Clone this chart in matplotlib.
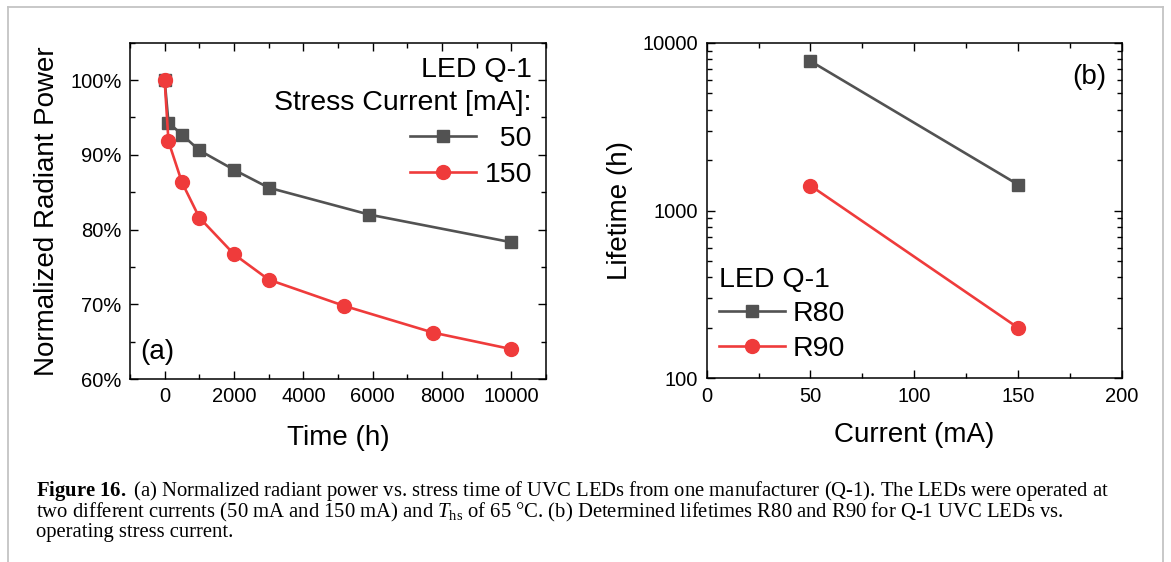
import matplotlib
matplotlib.use("Agg")
import matplotlib.pyplot as plt
from matplotlib.ticker import MultipleLocator, FuncFormatter, LogLocator, NullFormatter
from matplotlib.lines import Line2D

plt.rcParams['font.family'] = ['Liberation Sans', 'DejaVu Sans']
plt.rcParams['mathtext.fontset'] = 'custom'
plt.rcParams['mathtext.rm'] = 'Liberation Serif'
plt.rcParams['mathtext.it'] = 'Liberation Serif:italic'
plt.rcParams['mathtext.bf'] = 'Liberation Serif:bold'

# (a) normalized radiant power vs stress time
time_50 = [0, 110, 500, 1000, 2000, 3000, 5900, 10000]
power_50 = [100, 94.3, 92.7, 90.6, 88.0, 85.6, 82.0, 78.3]
time_150 = [0, 110, 500, 1000, 2000, 3000, 5170, 7750, 10000]
power_150 = [100, 91.8, 86.3, 81.6, 76.7, 73.3, 69.8, 66.2, 64.0]

# (b) lifetimes vs stress current
current = [50, 150]
life_r80 = [7800, 1430]
life_r90 = [1410, 200]

GRAY = '#525252'
RED = '#ef3b3b'
TICK_FS = 14.5
LABEL_FS = 20
LEG_FS = 20.5

fig = plt.figure(figsize=(11.71, 5.62), dpi=100)

# light frame around the figure block
for xs, ys in [([0.0071, 0.9929], [0.9884, 0.9884]),
               ([0.0071, 0.0071], [0.0, 0.9884]),
               ([0.9929, 0.9929], [0.0, 0.9884])]:
    fig.add_artist(Line2D(xs, ys, color='#c4c4c4', lw=1.3, transform=fig.transFigure))


def style_axes(ax):
    for sp in ax.spines.values():
        sp.set_linewidth(1.1)
    ax.tick_params(which='both', direction='in', top=True, right=True,
                   width=1.0, labelsize=TICK_FS)
    ax.tick_params(which='major', length=6, pad=6)
    ax.tick_params(which='minor', length=3.5)


# ---- panel (a)
ax1 = fig.add_axes([0.1110, 0.3256, 0.3553, 0.5984])
ax1.plot(time_50, power_50, '-s', color=GRAY, lw=1.9, ms=9, label='  50')
ax1.plot(time_150, power_150, '-o', color=RED, lw=1.9, ms=10, label='150')
ax1.set_xlim(-1000, 11000)
ax1.set_ylim(60, 105)
ax1.xaxis.set_major_locator(MultipleLocator(2000))
ax1.xaxis.set_minor_locator(MultipleLocator(1000))
ax1.yaxis.set_major_locator(MultipleLocator(10))
ax1.yaxis.set_minor_locator(MultipleLocator(5))
ax1.yaxis.set_major_formatter(FuncFormatter(lambda v, p: f'{v:.0f}%'))
style_axes(ax1)
ax1.set_xlabel('Time (h)', fontsize=LABEL_FS)
ax1.set_ylabel('Normalized Radiant Power', fontsize=LABEL_FS)
ax1.xaxis.set_label_coords(0.5, -0.175)
ax1.xaxis.label.set_va('center')
ax1.yaxis.set_label_coords(-0.2, 0.5)
ax1.yaxis.label.set_va('center')
ax1.text(0.024, 0.08, '(a)', transform=ax1.transAxes, fontsize=LABEL_FS,
         ha='left', va='center')
leg1 = ax1.legend(loc='upper right', bbox_to_anchor=(0.966, 0.958),
                  title='LED Q-1\nStress Current [mA]:', title_fontsize=LEG_FS,
                  fontsize=LEG_FS, frameon=False, borderpad=0, borderaxespad=0,
                  handlelength=2.3, handletextpad=0.3, labelspacing=0.35,
                  alignment='right')
leg1.get_title().set_multialignment('right')
leg1.get_title().set_linespacing(1.35)

# ---- panel (b)
ax2 = fig.add_axes([0.6034, 0.3269, 0.3547, 0.5966])
ax2.plot(current, life_r80, '-s', color=GRAY, lw=1.9, ms=9, label='R80')
ax2.plot(current, life_r90, '-o', color=RED, lw=1.9, ms=10, label='R90')
ax2.set_yscale('log')
ax2.set_xlim(0, 200)
ax2.set_ylim(100, 10000)
ax2.xaxis.set_major_locator(MultipleLocator(50))
ax2.xaxis.set_minor_locator(MultipleLocator(25))
ax2.yaxis.set_major_locator(LogLocator(base=10))
ax2.yaxis.set_major_formatter(FuncFormatter(lambda v, p: f'{v:.0f}'))
ax2.yaxis.set_minor_locator(LogLocator(base=10, subs=range(2, 10)))
ax2.yaxis.set_minor_formatter(NullFormatter())
style_axes(ax2)
ax2.set_xlabel('Current (mA)', fontsize=LABEL_FS)
ax2.set_ylabel('Lifetime (h)', fontsize=LABEL_FS)
ax2.xaxis.set_label_coords(0.5, -0.169)
ax2.xaxis.label.set_va('center')
ax2.yaxis.set_label_coords(-0.208, 0.5)
ax2.yaxis.label.set_va('center')
ax2.text(0.9615, 0.9, '(b)', transform=ax2.transAxes, fontsize=LABEL_FS,
         ha='right', va='center')
leg2 = ax2.legend(loc='upper left', bbox_to_anchor=(0.03, 0.333),
                  title='LED Q-1', title_fontsize=LEG_FS, fontsize=LEG_FS,
                  frameon=False, borderpad=0, borderaxespad=0,
                  handlelength=2.3, handletextpad=0.3, labelspacing=0.3,
                  alignment='left')

# ---- caption (one text block, tight line spacing)
caption = (r'$\bf{Figure\ 16.}$ (a) Normalized radiant power vs. stress time of UVC LEDs '
           r'from one manufacturer (Q-1). The LEDs were operated at' '\n'
           r'two different currents (50 mA and 150 mA) and $T_{\rm hs}$ of 65 °C. '
           r'(b) Determined lifetimes R80 and R90 for Q-1 UVC LEDs vs.' '\n'
           'operating stress current.')
fig.text(0.0307, 1 - 479 / 562, caption, family='Liberation Serif', fontsize=14.9,
         va='top', ha='left', linespacing=0.89)

fig.savefig('out.png', dpi=100)
